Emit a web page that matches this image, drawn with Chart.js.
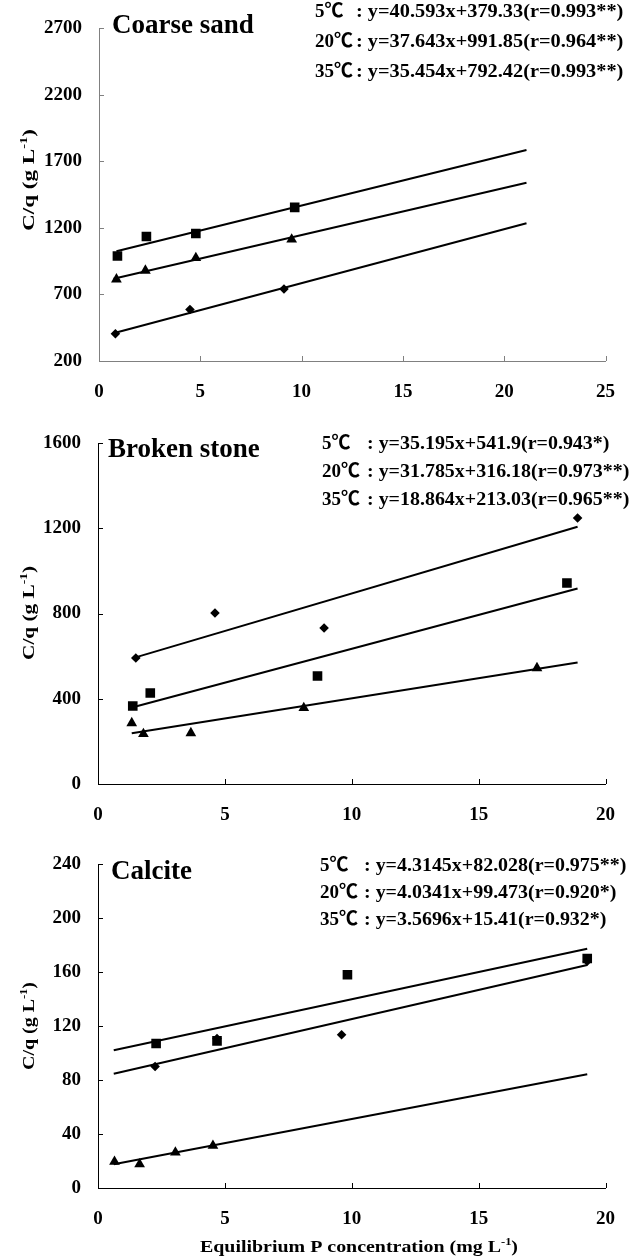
<!DOCTYPE html>
<html>
<head>
<meta charset="utf-8">
<script src="https://cdn.jsdelivr.net/npm/chart.js@4.4.1/dist/chart.umd.min.js"></script>
<style>
  html, body { margin: 0; padding: 0; background: #fff; }
  #wrap { position: relative; width: 635px; height: 1256px; overflow: hidden; }
  #wrap canvas { position: absolute; left: 0; }
</style>
</head>
<body>
<div id="wrap">
  <canvas id="sand" width="635" height="410" style="top:0px"></canvas>
  <canvas id="stone" width="635" height="420" style="top:410px"></canvas>
  <canvas id="calcite" width="635" height="426" style="top:830px"></canvas>
</div>
<script>
  "use strict";

  const TEMPS = ["5℃", "20℃", "35℃"];

  // Coarse sand: Ce vs Ce/q at 5, 20, 35 ℃
  const sandX5 = [0.81, 4.49, 9.13];
  const sandY5 = [405, 587, 741];
  const sandX20 = [0.91, 2.34, 4.78, 9.66];
  const sandY20 = [989, 1136, 1158, 1355];
  const sandX35 = [0.86, 2.29, 4.78, 9.51];
  const sandY35 = [814, 880, 975, 1114];
  const sandSlope = [40.593, 37.643, 35.454];
  const sandIntercept = [379.33, 991.85, 792.42];
  const sandR = ["0.993**", "0.964**", "0.993**"];
  const sandFitFrom = [0.76, 0.86, 0.72];
  const sandFitTo = [21.1, 21.1, 21.1];
  const sandXTicks = [0, 5, 10, 15, 20, 25];
  const sandYTicks = [200, 700, 1200, 1700, 2200, 2700];

  // Broken stone
  const stoneX5 = [1.49, 4.61, 8.91, 18.9];
  const stoneY5 = [591, 802, 732, 1248];
  const stoneX20 = [1.37, 2.06, 8.65, 18.48];
  const stoneY20 = [366, 427, 507, 943];
  const stoneX35 = [1.33, 1.79, 3.66, 8.11, 17.3];
  const stoneY35 = [286, 235, 239, 357, 544];
  const stoneSlope = [35.195, 31.785, 18.864];
  const stoneIntercept = [541.9, 316.18, 213.03];
  const stoneR = ["0.943*", "0.973**", "0.965**"];
  const stoneFitFrom = [1.48, 1.41, 1.33];
  const stoneFitTo = [18.9, 18.9, 18.9];
  const stoneXTicks = [0, 5, 10, 15, 20];
  const stoneYTicks = [0, 400, 800, 1200, 1600];

  // Calcite
  const calX5 = [2.25, 4.69, 9.6, 19.28];
  const calY5 = [90, 110.7, 113.5, 168];
  const calX20 = [2.29, 4.69, 9.83, 19.28];
  const calY20 = [107, 109, 158, 170];
  const calX35 = [0.65, 1.64, 3.05, 4.53];
  const calY35 = [19.5, 17.6, 26.4, 31.4];
  const calSlope = [4.3145, 4.0341, 3.5696];
  const calIntercept = [82.028, 99.473, 15.41];
  const calR = ["0.975**", "0.920*", "0.932*"];
  const calFitFrom = [0.62, 0.62, 0.62];
  const calFitTo = [19.28, 19.28, 19.28];
  const calXTicks = [0, 5, 10, 15, 20];
  const calYTicks = [0, 40, 80, 120, 160, 200, 240];

  const FONT = '"Liberation Serif", "Times New Roman", "Noto Sans CJK SC", serif';
  const font = size => `bold ${size}px ${FONT}`;

  const Y_TITLE = [["C/q (g L", false], ["-1", true], [")", false]];
  const X_TITLE = [["Equilibrium P concentration (mg L", false], ["-1", true], [")", false]];

  function richWidth(ctx, parts, size) {
    let w = 0;
    for (const [t, sup] of parts) {
      ctx.font = font(sup ? Math.round(size * 0.65) : size);
      w += ctx.measureText(t).width;
    }
    return w;
  }

  // text with superscript pieces; sx stretches it horizontally
  function drawRich(ctx, parts, x, y, size, sx) {
    ctx.save();
    ctx.translate(x, y);
    ctx.scale(sx || 1, 1);
    let cx = 0;
    for (const [t, sup] of parts) {
      ctx.font = font(sup ? Math.round(size * 0.65) : size);
      ctx.fillText(t, cx, sup ? -size * 0.42 : 0);
      cx += ctx.measureText(t).width;
    }
    ctx.restore();
  }

  // same, but squeezed or stretched to an exact length and centred on x
  function drawRichCentered(ctx, parts, x, y, size, len) {
    const w = richWidth(ctx, parts, size);
    const sx = len ? len / w : 1;
    drawRich(ctx, parts, x - (w * sx) / 2, y, size, sx);
  }

  const decor = {
    id: "decor",
    afterDraw(chart, _args, o) {
      const { ctx, chartArea: a } = chart;
      const xs = chart.scales.x, ys = chart.scales.y;
      ctx.save();

      // tick marks point into the plot
      ctx.strokeStyle = o.axisColor;
      ctx.lineWidth = 1;
      ctx.beginPath();
      xs.ticks.forEach(t => {
        const px = Math.round(xs.getPixelForValue(t.value)) + 0.5;
        ctx.moveTo(px, a.bottom);
        ctx.lineTo(px, a.bottom - 5);
      });
      ys.ticks.forEach(t => {
        const py = Math.round(ys.getPixelForValue(t.value)) + 0.5;
        ctx.moveTo(a.left, py);
        ctx.lineTo(a.left + 5, py);
      });
      ctx.stroke();

      ctx.fillStyle = "#000";
      ctx.textAlign = "left";
      ctx.textBaseline = "alphabetic";

      ctx.font = font(27);
      ctx.fillText(o.title, o.titleX, o.titleY);

      // regression equations; the temperature is kept clear of the colon
      o.eqs.forEach((eq, i) => {
        const room = o.colonX - 3 - o.eqX;
        const tw = richWidth(ctx, [[eq.temp, false]], 19);
        drawRich(ctx, [[eq.temp, false]], o.eqX, o.eqY[i], 19, Math.min(1, room / tw));
        drawRich(ctx, [[eq.text, false]], o.colonX, o.eqY[i], 19, o.eqStretch);
      });

      // y axis title, rotated
      ctx.save();
      ctx.translate(o.yTitleX, o.yTitleY);
      ctx.rotate(-Math.PI / 2);
      drawRichCentered(ctx, Y_TITLE, 0, 0, 16, o.yTitleLen);
      ctx.restore();

      if (o.xTitle) {
        drawRichCentered(ctx, X_TITLE, o.xTitleCx, o.xTitleY, 16, o.xTitleLen);
      }
      ctx.restore();
    }
  };

  function points(xs, ys) {
    return xs.map((x, i) => ({ x, y: ys[i] }));
  }

  function fitLine(slope, intercept, from, to) {
    return [
      { x: from, y: slope * from + intercept },
      { x: to, y: slope * to + intercept },
    ];
  }

  function makePanel(id, p) {
    const marks = [
      { data: points(p.x20, p.y20), pointStyle: "rect", pointRadius: 6.8 },
      { data: points(p.x35, p.y35), pointStyle: "triangle", pointRadius: 6.2 },
      { data: points(p.x5, p.y5), pointStyle: "rectRot", pointRadius: 4.8 },
    ].map(d => Object.assign(d, {
      showLine: false,
      backgroundColor: "#000",
      borderColor: "#000",
      borderWidth: 0,
    }));

    const lines = [0, 1, 2].map(i => ({
      data: fitLine(p.slope[i], p.intercept[i], p.fitFrom[i], p.fitTo[i]),
      showLine: true,
      pointRadius: 0,
      borderColor: "#000",
      borderWidth: 2,
      fill: false,
    }));

    const eqs = [0, 1, 2].map(i => ({
      temp: TEMPS[i],
      text: `: y=${p.slope[i]}x+${p.intercept[i]}(r=${p.r[i]})`,
    }));

    const tickFont = { family: FONT, size: 19, weight: "bold" };

    new Chart(document.getElementById(id), {
      type: "scatter",
      data: { datasets: marks.concat(lines) },
      options: {
        responsive: false,
        animation: false,
        events: [],
        layout: { padding: { top: p.padTop, right: p.padRight, left: 0, bottom: 0 } },
        plugins: {
          legend: { display: false },
          tooltip: { enabled: false },
          decor: Object.assign({ eqs }, p.decor),
        },
        scales: {
          x: {
            type: "linear",
            min: p.xTicks[0],
            max: p.xTicks[p.xTicks.length - 1],
            afterBuildTicks: s => { s.ticks = p.xTicks.map(v => ({ value: v })); },
            afterFit: s => { s.height = p.xAxisHeight; },
            grid: { display: false, drawTicks: false },
            border: { color: p.decor.axisColor, width: 1 },
            ticks: { font: tickFont, color: "#000", padding: 20, maxRotation: 0, callback: v => String(v) },
          },
          y: {
            type: "linear",
            min: p.yTicks[0],
            max: p.yTicks[p.yTicks.length - 1],
            afterBuildTicks: s => { s.ticks = p.yTicks.map(v => ({ value: v })); },
            afterFit: s => { s.width = p.yAxisWidth; },
            grid: { display: false, drawTicks: false },
            border: { color: p.decor.axisColor, width: 1 },
            ticks: { font: tickFont, color: "#000", padding: 17, callback: v => String(v) },
          },
        },
      },
      plugins: [decor],
    });
  }

  makePanel("sand", {
    x5: sandX5, y5: sandY5, x20: sandX20, y20: sandY20, x35: sandX35, y35: sandY35,
    slope: sandSlope, intercept: sandIntercept, r: sandR,
    fitFrom: sandFitFrom, fitTo: sandFitTo,
    xTicks: sandXTicks, yTicks: sandYTicks,
    padTop: 19, padRight: 13, xAxisHeight: 49, yAxisWidth: 99,
    decor: {
      axisColor: "#808080",
      title: "Coarse sand", titleX: 112, titleY: 33,
      eqX: 315, colonX: 356, eqY: [17, 47, 77], eqStretch: 1.07,
      yTitleX: 34, yTitleY: 180, yTitleLen: 102,
    },
  });

  makePanel("stone", {
    x5: stoneX5, y5: stoneY5, x20: stoneX20, y20: stoneY20, x35: stoneX35, y35: stoneY35,
    slope: stoneSlope, intercept: stoneIntercept, r: stoneR,
    fitFrom: stoneFitFrom, fitTo: stoneFitTo,
    xTicks: stoneXTicks, yTicks: stoneYTicks,
    padTop: 33, padRight: 12, xAxisHeight: 46, yAxisWidth: 98,
    decor: {
      axisColor: "#000",
      title: "Broken stone", titleX: 108, titleY: 47,
      eqX: 322, colonX: 367, eqY: [39, 67, 95], eqStretch: 1.05,
      yTitleX: 34, yTitleY: 203, yTitleLen: 94,
    },
  });

  makePanel("calcite", {
    x5: calX5, y5: calY5, x20: calX20, y20: calY20, x35: calX35, y35: calY35,
    slope: calSlope, intercept: calIntercept, r: calR,
    fitFrom: calFitFrom, fitTo: calFitTo,
    xTicks: calXTicks, yTicks: calYTicks,
    padTop: 34, padRight: 12, xAxisHeight: 68, yAxisWidth: 98,
    decor: {
      axisColor: "#000",
      title: "Calcite", titleX: 111, titleY: 49,
      eqX: 320, colonX: 364, eqY: [41, 68, 95], eqStretch: 1.05,
      yTitleX: 34, yTitleY: 196, yTitleLen: 88,
      xTitle: true, xTitleCx: 359, xTitleY: 422, xTitleLen: 318,
    },
  });
</script>
</body>
</html>
